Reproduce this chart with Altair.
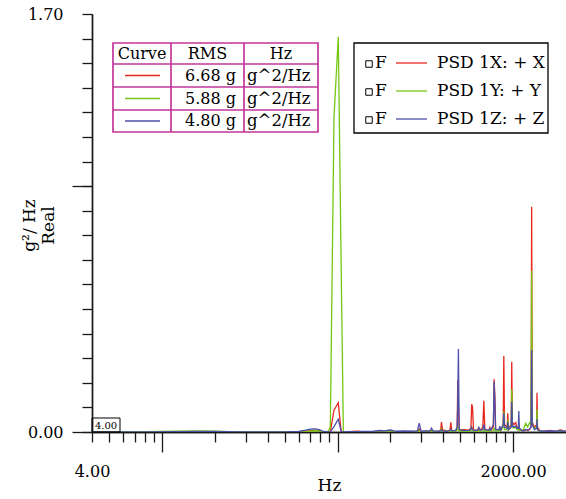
import altair as alt
import pandas as pd

# ---------------- data ----------------
freq = [4, 8, 12, 16, 20, 24, 30, 40, 50, 60, 66, 70, 74, 78, 82, 88, 91, 95.5, 101, 105, 108,
        115, 130, 140, 160, 175, 185, 200, 215, 240, 265, 285, 292, 299, 320, 336, 343, 350,
        380, 387, 391, 396, 420, 437, 442, 447, 470, 480, 484, 488, 493, 520, 560, 575, 581,
        587, 595, 625, 638, 648, 672, 681, 690, 728, 737, 746, 772, 779, 787, 795, 830, 840,
        850, 878, 885, 893, 925, 932, 940, 975, 982, 990, 1010, 1035, 1050, 1070, 1077, 1085,
        1140, 1180, 1210, 1240, 1265, 1275, 1285, 1320, 1360, 1368, 1376, 1420, 1500, 1620,
        1750, 1850, 2000]

psd_x = [0, 0, 0.001, 0.001, 0.001, 0, 0, 0, 0, 0.001, 0.003, 0.006, 0.007, 0.004, 0.002, 0, 0, 0.089, 0.119, 0, 0,
         0.001, 0.003, 0.001, 0, 0.001, 0.001, 0, 0.001, 0.001, 0.002, 0.001, 0.012, 0.002, 0.003, 0.002, 0.006, 0.002,
         0.003, 0.01, 0.04, 0.01, 0.004, 0.008, 0.039, 0.007, 0.006, 0.015, 0.211, 0.12, 0.008, 0.01, 0.008, 0.015, 0.113,
         0.1, 0.008, 0.008, 0.01, 0.006, 0.02, 0.127, 0.01, 0.006, 0.018, 0.006, 0.02, 0.215, 0.15, 0.008, 0.01, 0.012,
         0.006, 0.03, 0.309, 0.03, 0.02, 0.076, 0.015, 0.03, 0.286, 0.04, 0.03, 0.038, 0.02, 0.01, 0.025, 0.01,
         0.005, 0.01, 0.006, 0.01, 0.02, 0.916, 0.04, 0.02, 0.03, 0.16, 0.02, 0.005, 0.003, 0.006,
         0.002, 0.008, 0.002]

psd_y = [0, 0.001, 0.003, 0.004, 0.003, 0.001, 0, 0, 0, 0, 0.001, 0.003, 0.005, 0.004, 0.002, 0, 0.02, 1.28, 1.607, 0.65, 0,
         0, 0, 0, 0, 0, 0.001, 0, 0.001, 0, 0.001, 0.002, 0.004, 0.001, 0.001, 0.001, 0.003, 0.001,
         0.002, 0.004, 0.012, 0.003, 0.002, 0.003, 0.008, 0.002, 0.004, 0.008, 0.02, 0.015, 0.004, 0.003, 0.003, 0.005, 0.01,
         0.008, 0.003, 0.004, 0.005, 0.004, 0.006, 0.01, 0.004, 0.003, 0.007, 0.004, 0.006, 0.015, 0.01, 0.004, 0.005, 0.008,
         0.004, 0.02, 0.083, 0.01, 0.01, 0.05, 0.008, 0.02, 0.174, 0.02, 0.015, 0.02, 0.01, 0.008, 0.015, 0.008,
         0.008, 0.035, 0.02, 0.038, 0.03, 0.656, 0.03, 0.015, 0.02, 0.092, 0.01, 0.003, 0.002, 0.002,
         0.001, 0.003, 0.001]

psd_z = [0, 0, 0.001, 0.002, 0.002, 0.001, 0, 0, 0, 0.002, 0.008, 0.012, 0.013, 0.011, 0.004, 0, 0, 0.022, 0.052, 0, 0,
         0.001, 0.001, 0.002, 0.003, 0.006, 0.004, 0.008, 0.003, 0.004, 0.003, 0.004, 0.036, 0.003, 0.004, 0.004, 0.016, 0.004,
         0.003, 0.005, 0.008, 0.004, 0.003, 0.006, 0.012, 0.005, 0.006, 0.02, 0.12, 0.338, 0.01, 0.006, 0.007, 0.01, 0.02,
         0.012, 0.006, 0.007, 0.019, 0.008, 0.01, 0.03, 0.01, 0.008, 0.014, 0.008, 0.03, 0.205, 0.12, 0.01, 0.01, 0.024,
         0.008, 0.03, 0.076, 0.02, 0.015, 0.04, 0.01, 0.02, 0.123, 0.025, 0.02, 0.025, 0.015, 0.015, 0.085, 0.015,
         0.004, 0.01, 0.008, 0.012, 0.02, 0.333, 0.03, 0.01, 0.015, 0.052, 0.01, 0.004, 0.003, 0.004,
         0.003, 0.005, 0.002]

series_names = ["PSD 1X: + X", "PSD 1Y: + Y", "PSD 1Z: + Z"]
series_colors = ["#e8281e", "#74c814", "#4b50a8"]
rms_values = ["6.68 g", "5.88 g", "4.80 g"]
rms_units = ["g^2/Hz", "g^2/Hz", "g^2/Hz"]
table_header = ["Curve", "RMS", "Hz"]

x_minor_ticks = [4, 5, 6, 7, 8, 9, 20, 30, 40, 50, 60, 70, 80, 90,
                 200, 300, 400, 500, 600, 700, 800, 900]
x_major_ticks = [10, 100, 1000]
y_minor_ticks = [0, 0.1, 0.2, 0.3, 0.4, 0.5, 0.6, 0.7, 0.8, 0.9, 1.0,
                 1.1, 1.2, 1.3, 1.4, 1.5, 1.6, 1.7]
y_major_ticks = [0, 1.0]

# ---------------- build table ----------------
rows = []
for name, vals in zip(series_names, [psd_x, psd_y, psd_z]):
    for f, v in zip(freq, vals):
        rows.append({"Hz": f, "value": v, "series": name})
df = pd.DataFrame(rows)

W, H = 474, 418
FONT = "DejaVu Serif"
AXC = "#1a1a1a"
MAG = "#c2369b"

xscale = alt.Scale(type="log", domain=[4, 2000], nice=False)
yscale = alt.Scale(domain=[0, 1.7], nice=False, zero=False)

common_axis = dict(grid=False, domainColor=AXC, domainWidth=1.4, tickColor=AXC, tickWidth=1.3,
                   labelFont=FONT, labelFontSize=16, labelColor="black", labelOverlap=False,
                   titleFont=FONT, titleFontSize=17, titleFontWeight="normal", titleColor="black")

lines = alt.Chart(df).mark_line(strokeWidth=1.3, clip=True).encode(
    x=alt.X("Hz:Q", scale=xscale,
            axis=alt.Axis(values=x_minor_ticks, tickSize=10, orient="bottom",
                          labelExpr="datum.value == 4 ? '4.00' : ''",
                          labelFlush=False, labelPadding=21, title=None, **common_axis)),
    y=alt.Y("value:Q", scale=yscale,
            axis=alt.Axis(values=y_minor_ticks, tickSize=10, orient="left",
                          labelExpr="datum.value == 0 ? '0.00' : (datum.value > 1.65 ? '1.70' : '')",
                          labelPadding=19, title=["g²/ Hz", "Real"], titleX=-54, titleY=211,
                          titleAngle=270, titleAlign="center", titleBaseline="bottom",
                          titleLineHeight=19, **common_axis)),
    color=alt.Color("series:N", scale=alt.Scale(domain=series_names, range=series_colors), legend=None),
)

major = alt.Chart(df).mark_point(opacity=0, size=1).encode(
    x=alt.X("Hz:Q", scale=xscale,
            axis=alt.Axis(values=x_major_ticks, tickSize=20, orient="bottom",
                          labelExpr="datum.value == 1000 ? '2000.00' : ''",
                          labelFlush=False, labelPadding=11, title="Hz", titlePadding=-2,
                          **common_axis)),
    y=alt.Y("value:Q", scale=yscale,
            axis=alt.Axis(values=y_major_ticks, tickSize=20, orient="left", labels=False,
                          title=None, **common_axis)),
)

one = alt.Data(values=[{"k": 0}])


def rect(x1, y1, x2, y2, color, sw):
    return alt.Chart(one).mark_rect(fill="white", fillOpacity=0, stroke=color, strokeWidth=sw).encode(
        x=alt.value(x1 - 92), x2=alt.value(x2 - 92), y=alt.value(y1 - 14), y2=alt.value(y2 - 14))


def rule(x1, y1, x2, y2, color, sw):
    return alt.Chart(one).mark_rule(color=color, strokeWidth=sw).encode(
        x=alt.value(x1 - 92), x2=alt.value(x2 - 92), y=alt.value(y1 - 14), y2=alt.value(y2 - 14))


def text(x, y, s, align="left", size=16):
    return alt.Chart(one).mark_text(align=align, baseline="middle", font=FONT, fontSize=size,
                                    color="black").encode(
        x=alt.value(x - 92), y=alt.value(y - 14), text=alt.value(s))


deco = []
# ---- RMS table (top left) ----
tx1, tx2, tx3, tx4 = 113, 171, 244, 318
row_edges = [43, 64, 87, 110, 132]
deco.append(rect(tx1, row_edges[0], tx4, row_edges[-1], MAG, 1.7))
for yy in row_edges[1:-1]:
    deco.append(rule(tx1, yy, tx4, yy, MAG, 1.7))
deco.append(rule(tx2, row_edges[0], tx2, row_edges[-1], MAG, 1.7))
deco.append(rule(tx3, row_edges[0], tx3, row_edges[-1], MAG, 1.7))
hy = (row_edges[0] + row_edges[1]) / 2
deco.append(text((tx1 + tx2) / 2, hy, table_header[0], "center"))
deco.append(text((tx2 + tx3) / 2, hy, table_header[1], "center"))
deco.append(text((tx3 + tx4) / 2, hy, table_header[2], "center"))
for i in range(3):
    cy = (row_edges[i + 1] + row_edges[i + 2]) / 2
    deco.append(rule(125, cy, 160, cy, series_colors[i], 1.3))
    deco.append(text(236, cy, rms_values[i], "right"))
    deco.append(text(247, cy, rms_units[i], "left", 16.5))

# ---- series legend (top right) ----
deco.append(rect(354, 43, 548, 133, "black", 1.3))
for i, cy in enumerate([63, 91, 119]):
    deco.append(alt.Chart(one).mark_point(shape="square", filled=False, size=42, color="black",
                                          strokeWidth=1, opacity=1).encode(
        x=alt.value(369 - 92), y=alt.value(cy + 1 - 14)))
    deco.append(text(375, cy, "F", "left", 17))
    deco.append(rule(396, cy, 427, cy, series_colors[i], 1.3))
    deco.append(text(437, cy, series_names[i], "left", 17))

# ---- small "4.00" box ----
deco.append(rect(92, 418, 120, 432, "black", 1))
deco.append(text(106, 425.5, "4.00", "center", 10))

chart = alt.layer(lines, major, *deco).resolve_axis(x="independent", y="independent").properties(
    width=W, height=H,
    autosize=alt.AutoSizeParams(type="none"),
    padding={"left": 92, "top": 14, "right": 0, "bottom": 67},
    background="white",
).configure_view(stroke=None)

chart.save("out.html", embed_options={"renderer": "svg", "actions": False})
